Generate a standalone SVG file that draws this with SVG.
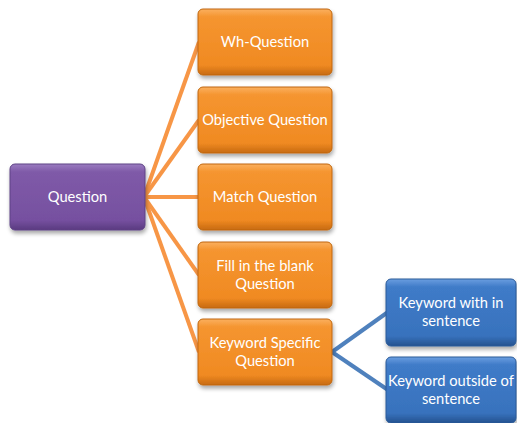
<svg xmlns="http://www.w3.org/2000/svg" width="517" height="423" viewBox="0 0 517 423">
  <defs>
    <linearGradient id="gPurple" x1="0" y1="0" x2="0" y2="1">
      <stop offset="0" stop-color="#9a7cc0"/>
      <stop offset="0.12" stop-color="#7f5aa8"/>
      <stop offset="0.85" stop-color="#7650a0"/>
      <stop offset="1" stop-color="#5a3a80"/>
    </linearGradient>
    <linearGradient id="gOrange" x1="0" y1="0" x2="0" y2="1">
      <stop offset="0" stop-color="#fbb060"/>
      <stop offset="0.12" stop-color="#f59530"/>
      <stop offset="0.85" stop-color="#f08a22"/>
      <stop offset="1" stop-color="#c76a10"/>
    </linearGradient>
    <linearGradient id="gBlue" x1="0" y1="0" x2="0" y2="1">
      <stop offset="0" stop-color="#6b9ee0"/>
      <stop offset="0.12" stop-color="#3f7bc8"/>
      <stop offset="0.85" stop-color="#3872bd"/>
      <stop offset="1" stop-color="#24528f"/>
    </linearGradient>
    <filter id="shadow" x="-10%" y="-10%" width="130%" height="140%">
      <feGaussianBlur in="SourceAlpha" stdDeviation="2"/>
      <feOffset dx="1" dy="3" result="b"/>
      <feComponentTransfer><feFuncA type="linear" slope="0.35"/></feComponentTransfer>
      <feMerge><feMergeNode/><feMergeNode in="SourceGraphic"/></feMerge>
    </filter>
  </defs>
  <style>
    .purple { fill: url(#gPurple); stroke: #5e4385; stroke-width: 1; filter: url(#shadow); }
    .orange { fill: url(#gOrange); stroke: #c0660e; stroke-width: 1; filter: url(#shadow); }
    .blue { fill: url(#gBlue); stroke: #2a5a98; stroke-width: 1; filter: url(#shadow); }
    .label { font-family: "Lato", "Open Sans", "Liberation Sans", sans-serif; font-size: 14.7px; fill: #ffffff; text-anchor: middle; }
    .link-o { stroke: #f79646; stroke-width: 4; fill: none; }
    .link-b { stroke: #4f81bd; stroke-width: 4; fill: none; }
  </style>
  <rect width="517" height="423" fill="#ffffff"/>

  <g id="connectors">
    <line class="link-o" x1="144" y1="197" x2="199" y2="42"/>
    <line class="link-o" x1="144" y1="197" x2="199" y2="120"/>
    <line class="link-o" x1="144" y1="197" x2="199" y2="197"/>
    <line class="link-o" x1="144" y1="197" x2="199" y2="275"/>
    <line class="link-o" x1="144" y1="197" x2="199" y2="352"/>
    <line class="link-b" x1="332" y1="352" x2="388" y2="312"/>
    <line class="link-b" x1="332" y1="352" x2="388" y2="390"/>
  </g>

  <g id="question">
    <rect class="purple" x="10" y="164" width="135" height="66" rx="5"/>
    <text class="label" x="77.5" y="202">Question</text>
  </g>

  <g id="wh-question">
    <rect class="orange" x="198" y="9" width="134" height="66" rx="5"/>
    <text class="label" x="265" y="47">Wh-Question</text>
  </g>

  <g id="objective-question">
    <rect class="orange" x="198" y="87" width="134" height="66" rx="5"/>
    <text class="label" x="265" y="125">Objective Question</text>
  </g>

  <g id="match-question">
    <rect class="orange" x="198" y="164" width="134" height="66" rx="5"/>
    <text class="label" x="265" y="202">Match Question</text>
  </g>

  <g id="fill-blank-question">
    <rect class="orange" x="198" y="242" width="134" height="66" rx="5"/>
    <text class="label" x="265" y="271">Fill in the blank</text>
    <text class="label" x="265" y="289">Question</text>
  </g>

  <g id="keyword-specific-question">
    <rect class="orange" x="198" y="319" width="134" height="66" rx="5"/>
    <text class="label" x="265" y="348">Keyword Specific</text>
    <text class="label" x="265" y="366">Question</text>
  </g>

  <g id="keyword-within-sentence">
    <rect class="blue" x="386" y="279" width="130" height="67" rx="5"/>
    <text class="label" x="451" y="308">Keyword with in</text>
    <text class="label" x="451" y="326">sentence</text>
  </g>

  <g id="keyword-outside-sentence">
    <rect class="blue" x="386" y="357" width="130" height="66" rx="5"/>
    <text class="label" x="451" y="386">Keyword outside of</text>
    <text class="label" x="451" y="404">sentence</text>
  </g>
</svg>
